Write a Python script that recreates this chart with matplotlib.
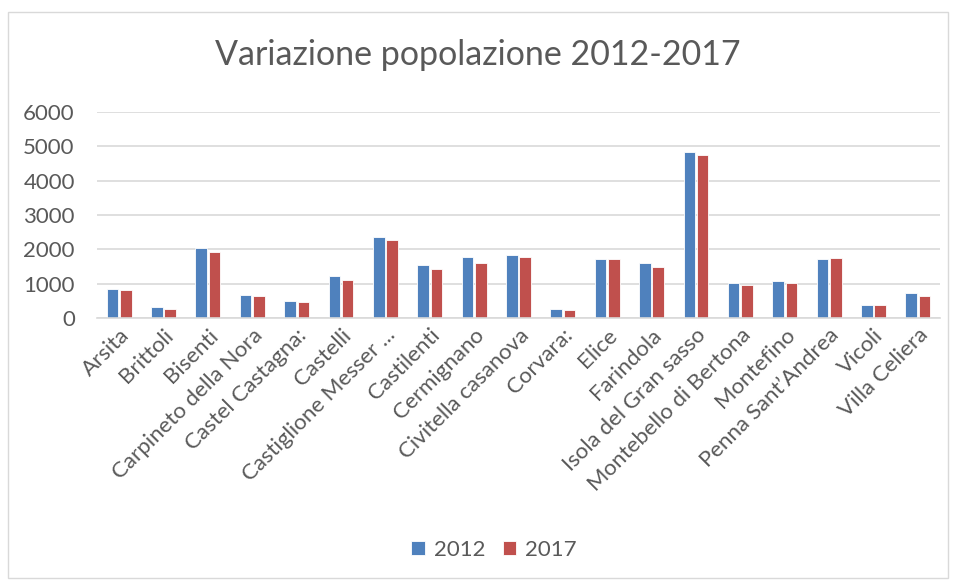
import matplotlib.pyplot as plt
import matplotlib.patches as mpatches
import numpy as np

plt.rcParams['font.family'] = ['Lato', 'DejaVu Sans']

comuni = ['Arsita', 'Brittoli', 'Bisenti', 'Carpineto della Nora', 'Castel Castagna:',
          'Castelli', 'Castiglione Messer ...', 'Castilenti', 'Cermignano',
          'Civitella casanova', 'Corvara:', 'Elice', 'Farindola', 'Isola del Gran sasso',
          'Montebello di Bertona', 'Montefino', 'Penna Sant\u2019Andrea', 'Vicoli',
          'Villa Celiera']
pop_2012 = [854, 311, 2049, 670, 485, 1214, 2350, 1534, 1767, 1845,
            262, 1709, 1592, 4825, 1010, 1078, 1709, 379, 738]
pop_2017 = [806, 272, 1913, 631, 476, 1117, 2272, 1437, 1612, 1767,
            233, 1709, 1476, 4757, 961, 1019, 1757, 379, 650]
anni = ['2012', '2017']

blu = '#4F81BD'
rosso = '#C0504D'
grigio = '#595959'

fig = plt.figure(figsize=(9.55, 5.8), dpi=100)
ax = fig.add_axes([97/955, 1-318/580, (940-97)/955, (318-112)/580])

x = np.arange(len(comuni))
w = 0.26
ax.bar(x - w/2 - 0.02, pop_2012, width=w, color=blu, edgecolor='white', linewidth=0.6, label=anni[0])
ax.bar(x + w/2 + 0.02, pop_2017, width=w, color=rosso, edgecolor='white', linewidth=0.6, label=anni[1])

ax.set_xlim(-0.5, len(comuni) - 0.5)
ax.set_ylim(0, 6000)
ax.set_yticks(np.arange(0, 6001, 1000))
ax.yaxis.grid(True, color='#d9d9d9', linewidth=1.2)
ax.set_axisbelow(True)
for s in ['top', 'right', 'left']:
    ax.spines[s].set_visible(False)
ax.spines['bottom'].set_color('#d9d9d9')
ax.spines['bottom'].set_linewidth(1.2)
ax.tick_params(length=0, colors=grigio, labelsize=16)
ax.tick_params(axis='y', pad=16)
ax.tick_params(axis='x', pad=5)
ax.set_xticks(x)
ax.set_xticklabels(comuni, rotation=45, ha='right', rotation_mode='anchor')

fig.text(0.5, 1-55/580, 'Variazione popolazione 2012-2017', ha='center', va='center',
         fontsize=24.5, color=grigio)

fig.legend(loc='center', bbox_to_anchor=(494/955, 1-550/580), ncol=2, frameon=False,
           fontsize=16, handlelength=0.6, handleheight=0.6, columnspacing=0.8,
           handletextpad=0.4, labelcolor=grigio)

fig.patches.append(mpatches.Rectangle((8/955, 2/580), 940/955, 566/580, transform=fig.transFigure,
                                      fill=False, edgecolor='#d9d9d9', linewidth=1))

plt.savefig('out.png', dpi=100)
